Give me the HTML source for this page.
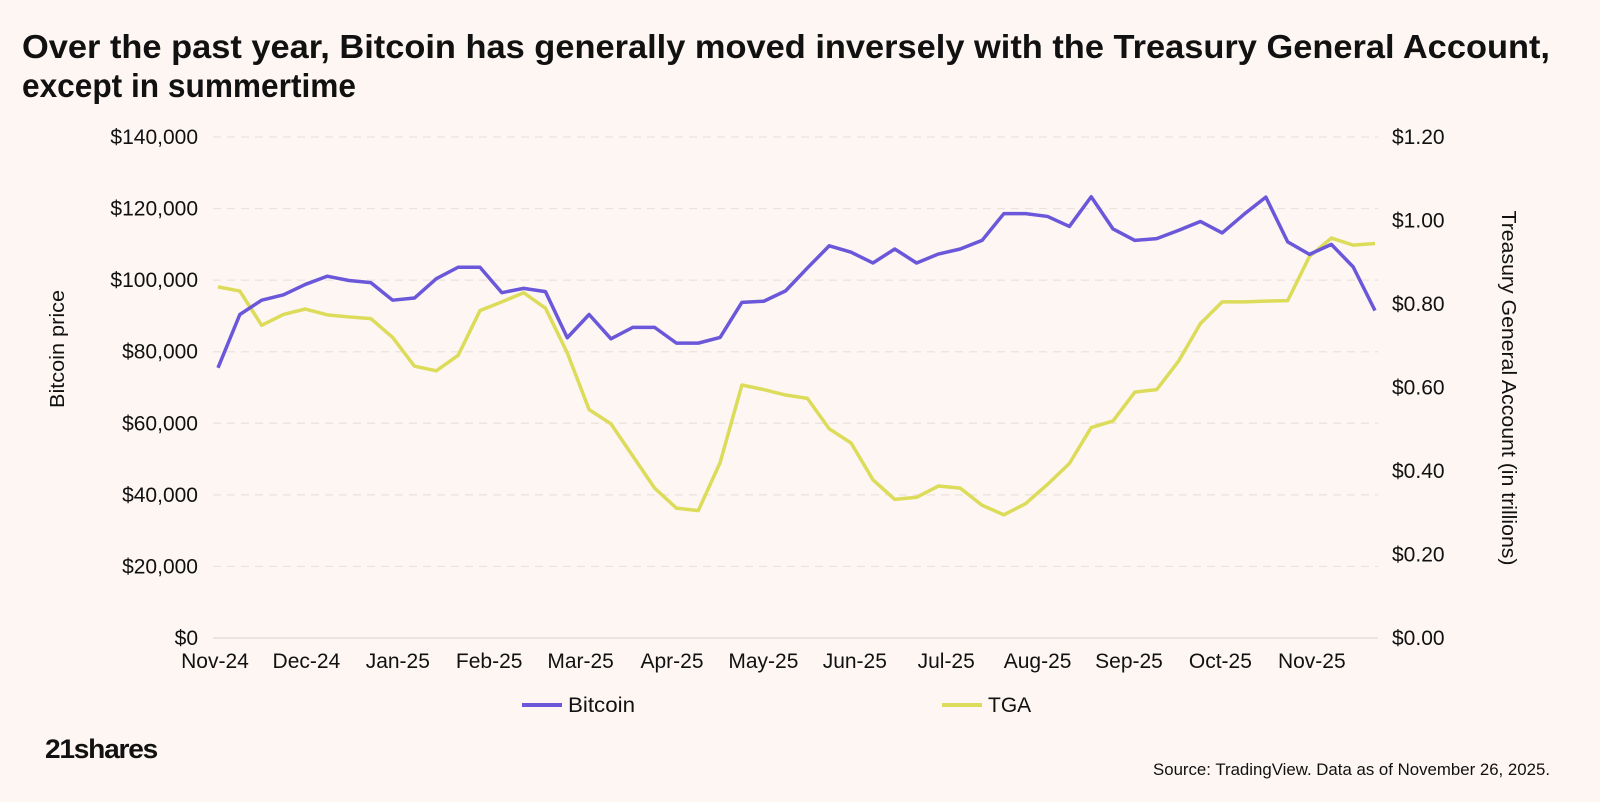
<!DOCTYPE html>
<html><head><meta charset="utf-8"><style>
html,body{margin:0;padding:0;background:#fdf6f3;}
svg{display:block;font-family:"Liberation Sans",sans-serif;}
</style></head><body>
<svg id="chart" width="1600" height="802" viewBox="0 0 1600 802" xmlns="http://www.w3.org/2000/svg">
<rect width="1600" height="802" fill="#fdf6f3"/>
<text x="22" y="58" font-size="33" font-weight="bold" fill="#111" textLength="1528" lengthAdjust="spacingAndGlyphs">Over the past year, Bitcoin has generally moved inversely with the Treasury General Account,</text>
<text x="22" y="97" font-size="33" font-weight="bold" fill="#111" textLength="334" lengthAdjust="spacingAndGlyphs">except in summertime</text>
<g id="grid"></g>
<g id="yleft"></g>
<g id="yright"></g>
<g id="xaxis"></g>
<text x="0" y="0" font-size="20" fill="#111" text-anchor="middle" textLength="118" lengthAdjust="spacingAndGlyphs" transform="translate(64,349) rotate(-90)">Bitcoin price</text>
<text x="0" y="0" font-size="20" fill="#111" text-anchor="middle" textLength="355" lengthAdjust="spacingAndGlyphs" transform="translate(1502,388) rotate(90)">Treasury General Account (in trillions)</text>
<g id="series"></g>
<g>
<g><line x1="522" y1="705" x2="562" y2="705" stroke="#6b57d9" stroke-width="4"/><text x="568" y="712" font-size="21" fill="#111" textLength="67" lengthAdjust="spacingAndGlyphs">Bitcoin</text></g>
<g><line x1="942" y1="705" x2="982" y2="705" stroke="#dcdc5a" stroke-width="4"/><text x="988" y="712" font-size="21" fill="#111">TGA</text></g>
</g>
<text x="45" y="758" font-size="27" font-weight="bold" fill="#111" letter-spacing="-1.2" textLength="112" lengthAdjust="spacingAndGlyphs">21shares</text>
<text x="1550" y="775" font-size="16.5" fill="#111" text-anchor="end" textLength="397" lengthAdjust="spacingAndGlyphs">Source: TradingView. Data as of November 26, 2025.</text>
</svg>
<script>
const xLabels = ["Nov-24","Dec-24","Jan-25","Feb-25","Mar-25","Apr-25","May-25","Jun-25","Jul-25","Aug-25","Sep-25","Oct-25","Nov-25"];
const leftTicks = [0,20000,40000,60000,80000,100000,120000,140000];
const rightTicks = [0,0.2,0.4,0.6,0.8,1.0,1.2];
const bitcoin = [75.5,90.4,94.4,95.9,98.8,101.1,99.9,99.3,94.4,95.0,100.4,103.6,103.6,96.5,97.7,96.8,83.9,90.4,83.6,86.8,86.8,82.4,82.4,84.0,93.8,94.1,97.0,
103.4,109.6,107.8,104.8,108.7,104.8,107.3,108.7,111.1,118.6,118.6,117.8,115.0,123.3,114.3,111.1,111.6,113.9,116.4,113.2,118.4,123.2,110.7,107.2,110.0,103.7,91.5];
const tga = [0.841,0.831,0.749,0.775,0.788,0.774,0.769,0.765,0.720,0.651,0.640,0.677,0.784,0.805,0.827,0.790,0.683,0.547,0.513,0.436,0.359,0.311,0.305,0.420,0.606,0.595,0.582,
0.574,0.501,0.467,0.379,0.332,0.337,0.364,0.359,0.318,0.295,0.322,0.368,0.418,0.504,0.520,0.589,0.595,0.663,0.753,0.805,0.805,0.807,0.808,0.914,0.958,0.941,0.945];

const NS="http://www.w3.org/2000/svg";
const X0=218,X1=1375,Y0=638,Y1=137;
const yL=v=>Y0-(v/140000)*(Y0-Y1);
const yR=v=>Y0-(v/1.2)*(Y0-Y1);
const xP=i=>X0+i*(X1-X0)/(bitcoin.length-1);
const xLab=i=>215+i*91.4;
function mk(tag,attrs,parent){const e=document.createElementNS(NS,tag);for(const k in attrs)e.setAttribute(k,attrs[k]);parent.appendChild(e);return e;}
const grid=document.getElementById('grid'),yl=document.getElementById('yleft'),yr=document.getElementById('yright'),xa=document.getElementById('xaxis'),ser=document.getElementById('series');
leftTicks.forEach(v=>{
  const y=yL(v);
  if(v>0){const g=mk('line',{x1:213,x2:1378,y1:y,y2:y,stroke:'#ebe2de','stroke-width':1.2,'stroke-dasharray':'8,6'},grid);
  
  }
  const t=mk('text',{x:198,y:y+7,'font-size':21,fill:'#111','text-anchor':'end'},yl);
  t.textContent='$'+v.toLocaleString('en-US');
  
  
});
mk('line',{x1:213,x2:1378,y1:Y0,y2:Y0,stroke:'#d9d0cc','stroke-width':1},grid);
rightTicks.forEach(v=>{
  const t=mk('text',{x:1392,y:yR(v)+7,'font-size':21,fill:'#111'},yr);
  t.textContent='$'+v.toFixed(2);
  
  
});
xLabels.forEach((s,i)=>{
  const t=mk('text',{x:xLab(i),y:668,'font-size':21,fill:'#111','text-anchor':'middle'},xa);
  t.textContent=s;
  
  
});
const pt=mk('polyline',{points:tga.map((v,i)=>xP(i)+','+yR(v)).join(' '),fill:'none',stroke:'#dcdc5a','stroke-width':3.5,'stroke-linejoin':'round'},ser);


const pb=mk('polyline',{points:bitcoin.map((v,i)=>xP(i)+','+yL(v*1000)).join(' '),fill:'none',stroke:'#6b57d9','stroke-width':3.5,'stroke-linejoin':'round'},ser);


</script>
</body></html>
